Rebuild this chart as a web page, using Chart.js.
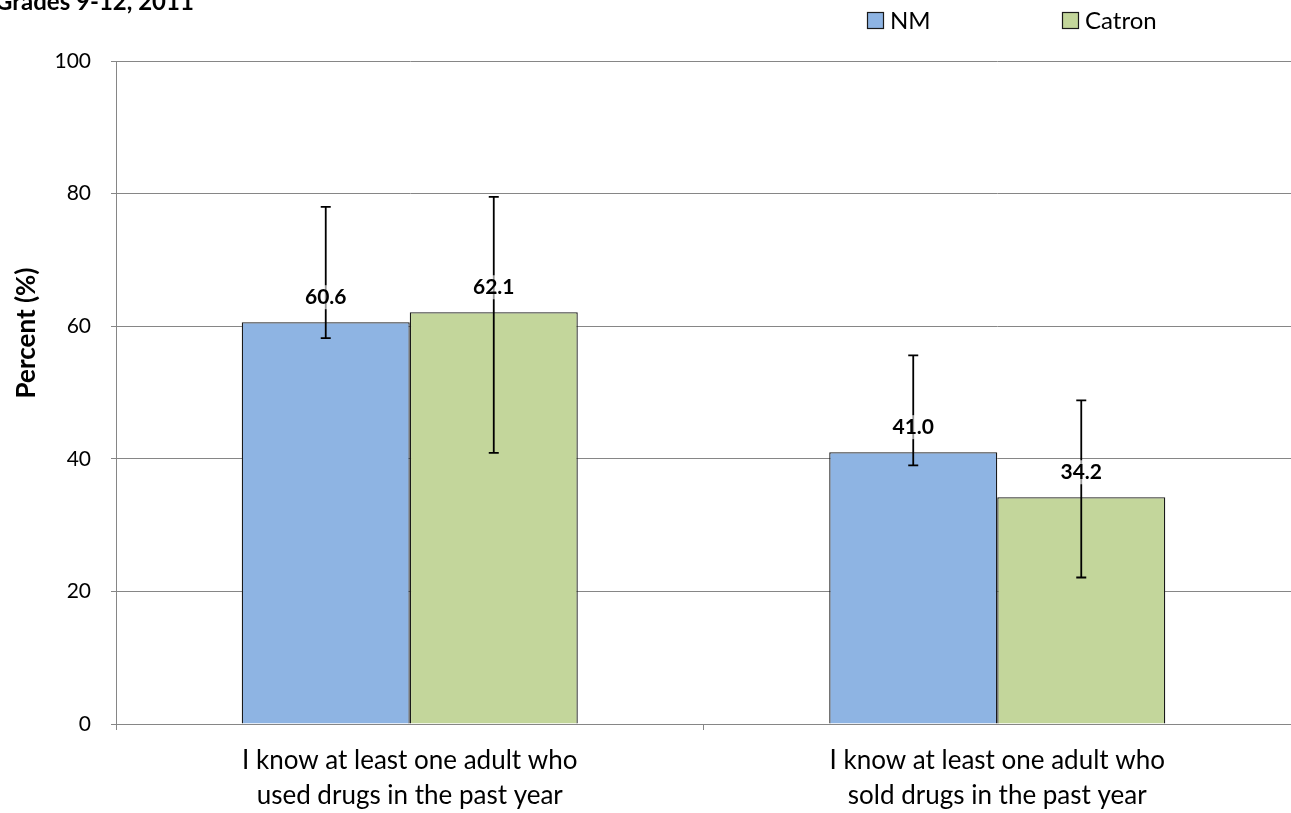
<!DOCTYPE html>
<html>
<head>
<meta charset="utf-8">
<script src="https://cdn.jsdelivr.net/npm/chart.js@4"></script>
<style>
  html, body { margin: 0; padding: 0; background: #fff; }
  #wrap { width: 1291px; height: 813px; position: relative; }
</style>
</head>
<body>
<div id="wrap"><canvas id="chart"></canvas></div>
<script>
// données
const categories = [
  ['I know at least one adult who', 'used drugs in the past year'],
  ['I know at least one adult who', 'sold drugs in the past year']
];
const nmValues = [60.6, 41.0];
const nmLow = [58.2, 39.0];
const nmHigh = [78.0, 55.6];
const catronValues = [62.1, 34.2];
const catronLow = [40.9, 22.1];
const catronHigh = [79.5, 48.8];
const yTicks = [0, 20, 40, 60, 80, 100];

const FONT = 'Lato, "Open Sans", sans-serif';

// barres d'erreur + étiquettes + légende + titre
const extras = {
  id: 'extras',
  afterDatasetsDraw(chart) {
    const ctx = chart.ctx;
    const lows = [nmLow, catronLow];
    const highs = [nmHigh, catronHigh];
    const y = chart.scales.y;
    chart.data.datasets.forEach((ds, di) => {
      const meta = chart.getDatasetMeta(di);
      meta.data.forEach((bar, i) => {
        const x = bar.x;
        const yl = y.getPixelForValue(lows[di][i]);
        const yh = y.getPixelForValue(highs[di][i]);
        ctx.save();
        ctx.strokeStyle = '#000';
        ctx.lineWidth = 1.8;
        ctx.beginPath();
        ctx.moveTo(x, yl); ctx.lineTo(x, yh);
        ctx.moveTo(x - 5, yl); ctx.lineTo(x + 5, yl);
        ctx.moveTo(x - 5, yh); ctx.lineTo(x + 5, yh);
        ctx.stroke();

        // étiquette de valeur
        const txt = ds.data[i].toFixed(1);
        ctx.font = 'bold 21px ' + FONT;
        const w = ctx.measureText(txt).width;
        const cy = bar.y - 25;
        ctx.fillStyle = 'rgba(255,255,255,0.6)';
        ctx.fillRect(x - w / 2 - 3, cy - 12, w + 6, 24);
        ctx.fillStyle = '#000';
        ctx.textAlign = 'center';
        ctx.textBaseline = 'middle';
        ctx.fillText(txt, x, cy);
        ctx.restore();
      });
    });
  },
  afterDraw(chart) {
    const ctx = chart.ctx;
    ctx.save();
    // titre coupé en haut
    ctx.fillStyle = '#000';
    ctx.font = 'bold 24px ' + FONT;
    ctx.textAlign = 'left';
    ctx.textBaseline = 'alphabetic';
    ctx.fillText('Grades 9-12, 2011', -5, 10);

    // titre de l'axe Y
    ctx.translate(27, 333);
    ctx.rotate(-Math.PI / 2);
    ctx.font = 'bold 26px ' + FONT;
    ctx.textAlign = 'center';
    ctx.textBaseline = 'middle';
    ctx.fillText('Percent (%)', 0, 0);
    ctx.restore();

    // légende
    ctx.save();
    const items = [
      { label: 'NM', color: '#8EB4E3', x: 867 },
      { label: 'Catron', color: '#C3D69B', x: 1062 }
    ];
    items.forEach(it => {
      ctx.fillStyle = it.color;
      ctx.fillRect(it.x, 12, 16, 16);
      ctx.strokeStyle = '#1a1a1a';
      ctx.lineWidth = 1.2;
      ctx.strokeRect(it.x + 0.5, 12.5, 16, 16);
      ctx.fillStyle = '#000';
      ctx.font = '24px ' + FONT;
      ctx.textBaseline = 'middle';
      ctx.textAlign = 'left';
      ctx.fillText(it.label, it.x + 23, 21);
    });
    ctx.restore();
  }
};

new Chart(document.getElementById('chart'), {
  type: 'bar',
  data: {
    labels: categories,
    datasets: [
      {
        label: 'NM',
        data: nmValues,
        backgroundColor: '#8EB4E3',
        borderColor: '#1a1a1a',
        borderWidth: 1.3,
        categoryPercentage: 0.572,
        barPercentage: 1
      },
      {
        label: 'Catron',
        data: catronValues,
        backgroundColor: '#C3D69B',
        borderColor: '#1a1a1a',
        borderWidth: 1.3,
        categoryPercentage: 0.572,
        barPercentage: 1
      }
    ]
  },
  options: {
    responsive: true,
    maintainAspectRatio: false,
    animation: false,
    layout: { padding: { top: 61, left: 0, right: 0, bottom: 0 } },
    plugins: {
      legend: { display: false },
      tooltip: { enabled: false }
    },
    scales: {
      x: {
        afterFit(scale) { scale.height = 89; },
        grid: {
          offset: true,
          drawOnChartArea: false,
          tickLength: 6,
          color: '#868686'
        },
        border: { color: '#868686', width: 1 },
        ticks: {
          color: '#000',
          font: { family: FONT, size: 26, lineHeight: 1.35 },
          padding: 13,
          maxRotation: 0
        }
      },
      y: {
        min: 0,
        max: 100,
        afterFit(scale) { scale.width = 116; },
        afterBuildTicks(scale) { scale.ticks = yTicks.map(v => ({ value: v })); },
        grid: {
          color: '#868686',
          tickLength: 5,
          lineWidth: 1
        },
        border: { color: '#868686', width: 1 },
        ticks: {
          color: '#000',
          font: { family: FONT, size: 21 },
          padding: 20
        }
      }
    }
  },
  plugins: [extras]
});
</script>
</body>
</html>
